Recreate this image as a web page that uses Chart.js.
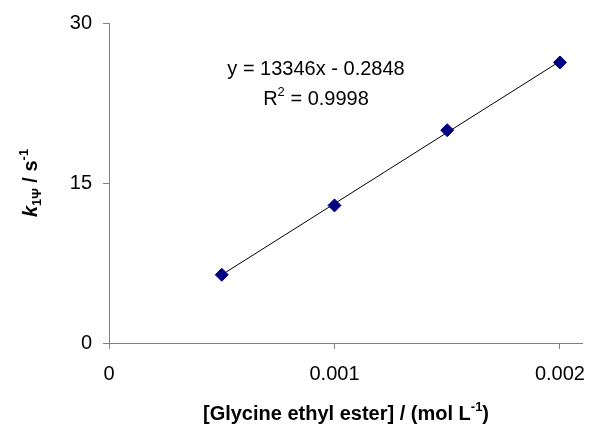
<!DOCTYPE html>
<html>
<head>
<meta charset="utf-8">
<script src="https://cdn.jsdelivr.net/npm/chart.js@4.4.0/dist/chart.umd.min.js"></script>
<style>
html,body{margin:0;padding:0;background:#fff;}
#wrap{width:590px;height:425px;position:relative;}
</style>
</head>
<body>
<div id="wrap"><canvas id="c" width="590" height="425"></canvas></div>
<script>
// Data
const concentrations = [0.0005, 0.0010, 0.0015, 0.0020];
const rateConstants = [6.4, 12.9, 19.95, 26.3];
// Trendline endpoints (as drawn in the reference)
const trendX = [0.0005, 0.0020];
const trendY = [6.39, 26.41];
const xTicks = [0, 0.001, 0.002];
const yTicks = [0, 15, 30];
const equationText = "y = 13346x - 0.2848";
const r2Value = "0.9998";

const FONT = "'Liberation Sans', Arial, sans-serif";
const AXIS_COLOR = '#808080';

const titlePlugin = {
  id: 'titles',
  afterDraw(chart) {
    const ctx = chart.ctx;
    ctx.save();
    ctx.fillStyle = '#000';
    ctx.textBaseline = 'alphabetic';
    // equation
    ctx.font = `20px ${FONT}`;
    ctx.textAlign = 'center';
    ctx.fillText(equationText, 316, 75);
    // R² line
    ctx.textAlign = 'left';
    const partA = 'R', partB = '2', partC = ' = ' + r2Value;
    ctx.font = `20px ${FONT}`;
    const wA = ctx.measureText(partA).width, wC = ctx.measureText(partC).width;
    ctx.font = `13px ${FONT}`;
    const wB = ctx.measureText(partB).width;
    let x = 316 - (wA + wB + wC) / 2;
    ctx.font = `20px ${FONT}`; ctx.fillText(partA, x, 105); x += wA;
    ctx.font = `13px ${FONT}`; ctx.fillText(partB, x, 96); x += wB;
    ctx.font = `20px ${FONT}`; ctx.fillText(partC, x, 105);

    // x title
    const xs = [
      {t: '[Glycine ethyl ester] / (mol L', f: `bold 20px ${FONT}`, dy: 0},
      {t: '-1', f: `bold 13px ${FONT}`, dy: -9},
      {t: ')', f: `bold 20px ${FONT}`, dy: 0}
    ];
    drawSegments(ctx, xs, 346, 420);

    // y title rotated
    ctx.translate(37, 183);
    ctx.rotate(-Math.PI / 2);
    const ys = [
      {t: 'k', f: `italic bold 20px ${FONT}`, dy: 0},
      {t: '1Ψ', f: `bold 13px ${FONT}`, dy: 4},
      {t: ' / s', f: `bold 20px ${FONT}`, dy: 0},
      {t: '-1', f: `bold 13px ${FONT}`, dy: -9}
    ];
    drawSegments(ctx, ys, 0, 0);
    ctx.restore();
  }
};
function drawSegments(ctx, segs, cx, by) {
  let total = 0;
  segs.forEach(s => { ctx.font = s.f; s.w = ctx.measureText(s.t).width; total += s.w; });
  let x = cx - total / 2;
  ctx.textAlign = 'left';
  segs.forEach(s => { ctx.font = s.f; ctx.fillText(s.t, x, by + s.dy); x += s.w; });
}

new Chart(document.getElementById('c'), {
  type: 'scatter',
  data: {
    datasets: [
      {
        label: 'k',
        data: concentrations.map((c, i) => ({x: c, y: rateConstants[i]})),
        pointStyle: 'rectRot',
        pointRadius: 6.5,
        pointHoverRadius: 6.5,
        backgroundColor: '#000080',
        borderColor: '#000080',
        borderWidth: 1,
        order: 1
      },
      {
        label: 'trend',
        type: 'line',
        data: trendX.map((c, i) => ({x: c, y: trendY[i]})),
        borderColor: '#000',
        borderWidth: 1,
        pointRadius: 0,
        fill: false,
        order: 2
      }
    ]
  },
  options: {
    responsive: false,
    animation: false,
    devicePixelRatio: 1,
    layout: {padding: {left: 0, top: 23, right: 7, bottom: 0}},
    plugins: {legend: {display: false}, tooltip: {enabled: false}},
    scales: {
      x: {
        type: 'linear',
        min: 0, max: 0.0021,
        afterBuildTicks: s => { s.ticks = xTicks.map(v => ({value: v})); },
        afterFit: s => { s.height = 82; s.paddingLeft = 0; s.paddingRight = 0; },
        grid: {display: true, drawOnChartArea: false, drawTicks: true, tickLength: 6, color: AXIS_COLOR, lineWidth: 1},
        border: {display: true, color: AXIS_COLOR, width: 1},
        ticks: {color: '#000', font: {family: FONT, size: 20}, padding: 13, maxRotation: 0,
                callback: v => String(v)}
      },
      y: {
        type: 'linear',
        min: 0, max: 30,
        afterBuildTicks: s => { s.ticks = yTicks.map(v => ({value: v})); },
        afterFit: s => { s.width = 109; s.paddingTop = 0; s.paddingBottom = 0; },
        grid: {display: true, drawOnChartArea: false, drawTicks: true, tickLength: 6, color: AXIS_COLOR, lineWidth: 1},
        border: {display: true, color: AXIS_COLOR, width: 1},
        ticks: {color: '#000', font: {family: FONT, size: 20}, padding: 11,
                callback: v => String(v)}
      }
    }
  },
  plugins: [titlePlugin]
});
</script>
</body>
</html>
